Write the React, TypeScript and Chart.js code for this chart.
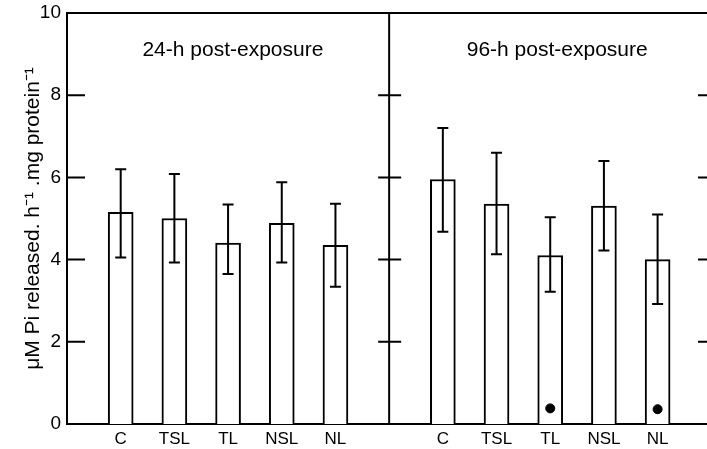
import React, { useEffect, useRef } from 'react';
import { Chart, registerables } from 'chart.js';

Chart.register(...registerables);

const categories = ['C', 'TSL', 'TL', 'NSL', 'NL'];
const panelTitles = ['24-h post-exposure', '96-h post-exposure'];
const means24 = [5.15, 5.0, 4.4, 4.88, 4.35];
const upper24 = [6.2, 6.08, 5.34, 5.88, 5.36];
const lower24 = [4.05, 3.93, 3.65, 3.93, 3.34];
const means96 = [5.95, 5.35, 4.1, 5.3, 4.0];
const upper96 = [7.2, 6.6, 5.03, 6.4, 5.1];
const lower96 = [4.68, 4.13, 3.22, 4.22, 2.92];
const marked96 = [false, false, true, false, true];
const markerValues = [0, 0, 0.38, 0, 0.36];
const yTicks = [0, 2, 4, 6, 8, 10];
const yAxisTitle = 'μM Pi released. h⁻¹ .mg protein⁻¹';

// x positions: panel 1 -> 0..4, divider at 5, panel 2 -> 6..10
const pos24 = categories.map((_, i) => i);
const pos96 = categories.map((_, i) => i + 6);
const dividerPos = 5;

const FONT = '"Liberation Sans", Arial, Helvetica, sans-serif';

export default function App() {
  const ref = useRef<HTMLCanvasElement | null>(null);

  useEffect(() => {
    if (!ref.current) return;
    const barData = [
      ...pos24.map((x, i) => ({ x, y: means24[i] })),
      ...pos96.map((x, i) => ({ x, y: means96[i] })),
    ];
    const errData = [
      ...pos24.map((x, i) => ({ x, lo: lower24[i], hi: upper24[i] })),
      ...pos96.map((x, i) => ({ x, lo: lower96[i], hi: upper96[i] })),
    ];
    const dotData = pos96
      .map((x, i) => (marked96[i] ? { x, y: markerValues[i] } : null))
      .filter((d) => d !== null) as { x: number; y: number }[];

    const labelMap: Record<number, string> = {};
    pos24.forEach((x, i) => (labelMap[x] = categories[i]));
    pos96.forEach((x, i) => (labelMap[x] = categories[i]));

    const framePlugin = {
      id: 'frame',
      beforeDraw(chart: any) {
        const { ctx } = chart;
        ctx.save();
        ctx.fillStyle = '#fff';
        ctx.fillRect(0, 0, chart.width, chart.height);
        ctx.restore();
      },
      afterDatasetsDraw(chart: any) {
        const { ctx, chartArea } = chart;
        const xs = chart.scales.x;
        const ys = chart.scales.y;
        ctx.save();
        ctx.strokeStyle = '#000';
        ctx.lineWidth = 2;
        // error bars
        errData.forEach((e) => {
          const px = xs.getPixelForValue(e.x);
          const pLo = ys.getPixelForValue(e.lo);
          const pHi = ys.getPixelForValue(e.hi);
          ctx.beginPath();
          ctx.moveTo(px, pLo);
          ctx.lineTo(px, pHi);
          ctx.moveTo(px - 5.5, pLo);
          ctx.lineTo(px + 5.5, pLo);
          ctx.moveTo(px - 5.5, pHi);
          ctx.lineTo(px + 5.5, pHi);
          ctx.stroke();
        });
        // top line
        ctx.beginPath();
        ctx.moveTo(chartArea.left, chartArea.top);
        ctx.lineTo(chartArea.right, chartArea.top);
        // divider
        const dx = xs.getPixelForValue(dividerPos);
        ctx.moveTo(dx, chartArea.top);
        ctx.lineTo(dx, chartArea.bottom);
        ctx.stroke();
        // ticks
        yTicks.forEach((v) => {
          if (v === 0 || v === 10) return;
          const py = ys.getPixelForValue(v);
          ctx.beginPath();
          ctx.moveTo(chartArea.left, py);
          ctx.lineTo(chartArea.left + 18, py);
          ctx.moveTo(dx - 11, py);
          ctx.lineTo(dx + 12, py);
          ctx.moveTo(chartArea.right - 9, py);
          ctx.lineTo(chartArea.right, py);
          ctx.stroke();
        });
        // panel titles
        ctx.fillStyle = '#000';
        ctx.font = `21px ${FONT}`;
        ctx.textAlign = 'center';
        ctx.textBaseline = 'middle';
        const ty = ys.getPixelForValue(9.1);
        ctx.fillText(panelTitles[0], xs.getPixelForValue(2.09), ty);
        ctx.fillText(panelTitles[1], xs.getPixelForValue(8.13), ty);
        ctx.restore();
      },
    };

    const chart = new Chart(ref.current, {
      type: 'bar',
      data: {
        datasets: [
          {
            type: 'scatter',
            data: dotData,
            pointRadius: 4.5,
            pointBackgroundColor: '#000',
            pointBorderColor: '#000',
            order: 0,
          } as any,
          {
            type: 'bar',
            data: barData,
            backgroundColor: '#fff',
            borderColor: '#000',
            borderWidth: 2,
            barThickness: 25,
            order: 1,
          },
        ],
      },
      options: {
        responsive: false,
        animation: false,
        layout: { autoPadding: false, padding: { top: 13, right: 0, left: 0, bottom: 0 } },
        plugins: { legend: { display: false }, tooltip: { enabled: false } },
        scales: {
          x: {
            type: 'linear',
            offset: false,
            min: -1,
            max: 10.92,
            grid: { display: false, drawTicks: false, offset: false },
            border: { display: true, color: '#000', width: 2 },
            afterBuildTicks(scale: any) {
              scale.ticks = [...pos24, ...pos96].map((v) => ({ value: v }));
            },
            afterFit(scale: any) {
              scale.height = 25;
              scale.paddingRight = 0;
              scale.paddingLeft = 0;
            },
            ticks: {
              color: '#000',
              font: { family: FONT, size: 17 },
              padding: 5,
              maxRotation: 0,
              autoSkip: false,
              callback: (v: any) => labelMap[v as number] ?? '',
            },
          },
          y: {
            min: 0,
            max: 10,
            grid: { display: false, drawTicks: false },
            border: { display: true, color: '#000', width: 2 },
            afterBuildTicks(scale: any) {
              scale.ticks = yTicks.map((v) => ({ value: v }));
            },
            afterFit(scale: any) {
              scale.width = 67;
              scale.paddingTop = 0;
              scale.paddingBottom = 0;
            },
            ticks: {
              color: '#000',
              font: { family: FONT, size: 19 },
              padding: 6,
            },
            title: {
              display: true,
              text: yAxisTitle,
              color: '#000',
              font: { family: FONT, size: 21 },
              padding: { top: 21, bottom: 0 },
            },
          },
        },
      },
      plugins: [framePlugin],
    });
    return () => chart.destroy();
  }, []);

  return (
    <div style={{ position: 'absolute', left: 0, top: 0, width: 707, height: 449 }}>
      <canvas ref={ref} width={707} height={449} style={{ width: 707, height: 449 }} />
    </div>
  );
}
